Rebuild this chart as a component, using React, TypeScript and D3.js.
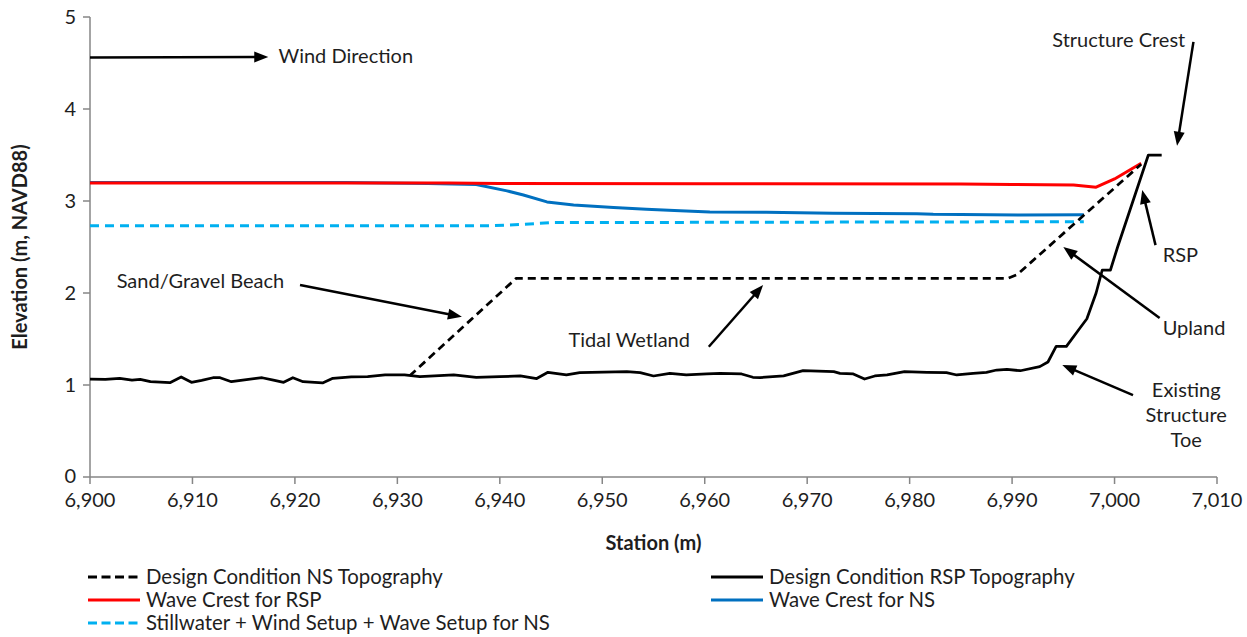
import React from "react";
import * as d3 from "d3";

// ---- data ----
const rspStation = [6900.0, 6901.5, 6902.9, 6904.1, 6904.9, 6905.9, 6907.8, 6908.9, 6909.9, 6910.9, 6912.0, 6912.7, 6913.8, 6914.9, 6916.8, 6917.9, 6918.9, 6919.8, 6920.8, 6922.7, 6923.7, 6925.5, 6927.1, 6928.8, 6930.7, 6932.2, 6935.5, 6937.7, 6940.0, 6942.0, 6943.6, 6944.7, 6946.5, 6947.8, 6952.4, 6953.7, 6955.0, 6956.6, 6958.2, 6960.2, 6961.5, 6963.6, 6964.7, 6965.4, 6967.7, 6969.6, 6972.6, 6973.2, 6974.5, 6975.6, 6976.6, 6977.8, 6979.5, 6981.7, 6983.6, 6984.6, 6986.2, 6987.5, 6988.5, 6989.5, 6990.8, 6992.7, 6993.5, 6994.3, 6995.3, 6996.5, 6997.3, 6998.2, 6998.8, 6999.6, 7000.3, 7003.3, 7004.6];
const rspElev = [1.065, 1.062, 1.073, 1.054, 1.062, 1.036, 1.025, 1.087, 1.029, 1.051, 1.079, 1.079, 1.036, 1.054, 1.079, 1.054, 1.029, 1.079, 1.036, 1.022, 1.073, 1.087, 1.09, 1.109, 1.109, 1.09, 1.109, 1.084, 1.09, 1.10, 1.07, 1.138, 1.109, 1.134, 1.145, 1.134, 1.098, 1.127, 1.109, 1.12, 1.127, 1.12, 1.084, 1.08, 1.10, 1.156, 1.145, 1.127, 1.12, 1.065, 1.098, 1.109, 1.145, 1.138, 1.134, 1.109, 1.127, 1.138, 1.163, 1.17, 1.155, 1.2, 1.25, 1.42, 1.42, 1.6, 1.72, 2.0, 2.25, 2.25, 2.5, 3.5, 3.5];

const nsStation = [6931.2, 6941.6, 6989.6, 6990.5, 7002.6];
const nsElev = [1.10, 2.16, 2.16, 2.2, 3.40];

const redStation = [6900, 6935, 6940, 6960, 6985, 6990, 6996, 6998.2, 7000, 7002.6];
const redElev = [3.195, 3.195, 3.19, 3.188, 3.186, 3.18, 3.175, 3.15, 3.24, 3.41];

const blueStation = [6900, 6925, 6933, 6937.7, 6940.7, 6942.3, 6944.6, 6947.2, 6951.1, 6954.3, 6957.6, 6960.5, 6966, 6972.5, 6980.7, 6982.3, 6990.8, 6997];
const blueElev = [3.2, 3.2, 3.19, 3.18, 3.11, 3.065, 2.99, 2.957, 2.93, 2.91, 2.895, 2.88, 2.877, 2.866, 2.862, 2.855, 2.848, 2.85];

const cyanStation = [6900, 6939, 6942, 6945.2, 6960, 6997];
const cyanElev = [2.73, 2.73, 2.745, 2.765, 2.768, 2.775];

const xTicks = [6900, 6910, 6920, 6930, 6940, 6950, 6960, 6970, 6980, 6990, 7000, 7010];
const yTicks = [0, 1, 2, 3, 4, 5];

const legendLabels = [
  "Design Condition NS Topography",
  "Design Condition RSP Topography",
  "Wave Crest for RSP",
  "Wave Crest for NS",
  "Stillwater + Wind Setup + Wave Setup for NS",
];

// annotation texts & arrows in data coordinates
const annotations = [
  { text: ["Wind Direction"], tx: 6918.4, ty: 4.576, anchor: "start", from: [6900, 4.56], to: [6917.4, 4.565] },
  { text: ["Structure Crest"], tx: 7006.9, ty: 4.75, anchor: "end", from: [7007.7, 4.73], to: [7006.1, 3.6] },
  { text: ["Sand/Gravel Beach"], tx: 6902.6, ty: 2.13, anchor: "start", from: [6920.5, 2.087], to: [6936.3, 1.742] },
  { text: ["Tidal Wetland"], tx: 6946.7, ty: 1.489, anchor: "start", from: [6960.4, 1.416], to: [6965.7, 2.087] },
  { text: ["RSP"], tx: 7004.7, ty: 2.413, anchor: "start", from: [7004.0, 2.52], to: [7002.7, 3.12] },
  { text: ["Upland"], tx: 7004.7, ty: 1.62, anchor: "start", from: [7004.4, 1.728], to: [6995.0, 2.5] },
  { text: ["Existing", "Structure", "Toe"], tx: 7007.0, ty: 0.946, anchor: "middle", from: [7001.8, 0.891], to: [6994.9, 1.217] },
];

const FONT = "Lato, Carlito, Calibri, 'Open Sans', sans-serif";
const W = 1247;
const H = 637;

function Arrow({ x1, y1, x2, y2 }: { x1: number; y1: number; x2: number; y2: number }) {
  const dx = x2 - x1;
  const dy = y2 - y1;
  const len = Math.hypot(dx, dy);
  const ux = dx / len;
  const uy = dy / len;
  const hl = 14;
  const hw = 5.5;
  const bx = x2 - ux * hl;
  const by = y2 - uy * hl;
  const pts = [
    [x2, y2],
    [bx - uy * hw, by + ux * hw],
    [bx + uy * hw, by - ux * hw],
  ];
  return (
    <g>
      <line x1={x1} y1={y1} x2={bx + ux * 2} y2={by + uy * 2} stroke="#000" strokeWidth={2.5} />
      <polygon points={pts.map((p) => p.join(",")).join(" ")} fill="#000" />
    </g>
  );
}

export default function App() {
  const x = d3.scaleLinear().domain([6900, 7010]).range([90, 1217]);
  const y = d3.scaleLinear().domain([0, 5]).range([477, 17]);
  const line = d3
    .line<[number, number]>()
    .x((d) => x(d[0]))
    .y((d) => y(d[1]));
  const zip = (a: number[], b: number[]) => a.map((v, i) => [v, b[i]] as [number, number]);

  const series = [
    { st: cyanStation, el: cyanElev, color: "#00b0f0", w: 3, dash: "9,6" },
    { st: blueStation, el: blueElev, color: "#0070c0", w: 3, dash: undefined },
    { st: redStation, el: redElev, color: "#ff0000", w: 3, dash: undefined },
    { st: nsStation, el: nsElev, color: "#000", w: 2.75, dash: "8,5" },
    { st: rspStation, el: rspElev, color: "#000", w: 2.75, dash: undefined },
  ];

  const legend = [
    { label: legendLabels[0], color: "#000", dash: "9,4.5", col: 0, row: 0 },
    { label: legendLabels[1], color: "#000", dash: undefined, col: 1, row: 0 },
    { label: legendLabels[2], color: "#ff0000", dash: undefined, col: 0, row: 1 },
    { label: legendLabels[3], color: "#0070c0", dash: undefined, col: 1, row: 1 },
    { label: legendLabels[4], color: "#00b0f0", dash: "9,4.5", col: 0, row: 2 },
  ];
  const colX = [88, 711];
  const rowY = [577, 600, 623];

  const axisColor = "#868686";
  const textColor = "#1e1e1e";

  return (
    <div style={{ position: "absolute", left: 0, top: 0 }}>
      <svg width={W} height={H} style={{ display: "block", background: "#fff" }} fontFamily={FONT}>
        {/* axes */}
        <line x1={x(6900)} x2={x(6900)} y1={y(0)} y2={y(5)} stroke={axisColor} strokeWidth={1.5} />
        <line x1={x(6900)} x2={x(7010)} y1={y(0)} y2={y(0)} stroke={axisColor} strokeWidth={1.5} />
        {yTicks.map((t) => (
          <g key={"yt" + t}>
            <line x1={x(6900) - 7} x2={x(6900)} y1={y(t)} y2={y(t)} stroke={axisColor} strokeWidth={1.5} />
            <text x={x(6900) - 14} y={y(t) - (t === 0 ? 1 : 0)} dy="0.35em" textAnchor="end" fontSize={20} fill={textColor}>
              {t}
            </text>
          </g>
        ))}
        {xTicks.map((t) => (
          <g key={"xt" + t}>
            <line x1={x(t)} x2={x(t)} y1={y(0)} y2={y(0) + 7} stroke={axisColor} strokeWidth={1.5} />
            <text x={x(t)} y={y(0) + 23} dy="0.35em" textAnchor="middle" fontSize={20} fill={textColor}>
              {d3.format(",")(t)}
            </text>
          </g>
        ))}
        <text
          transform={`translate(20,${(y(0) + y(5)) / 2}) rotate(-90)`}
          textAnchor="middle"
          dy="0.35em"
          fontSize={20}
          fontWeight="bold"
          fill={textColor}
        >
          Elevation (m, NAVD88)
        </text>
        <text x={(x(6900) + x(7010)) / 2} y={543} dy="0.35em" textAnchor="middle" fontSize={20} fontWeight="bold" fill={textColor}>
          Station (m)
        </text>

        {/* series */}
        {series.map((s, i) => (
          <path
            key={"s" + i}
            d={line(zip(s.st, s.el)) || ""}
            fill="none"
            stroke={s.color}
            strokeWidth={s.w}
            strokeDasharray={s.dash}
            strokeLinejoin="round"
          />
        ))}

        {/* annotations */}
        {annotations.map((a, i) => (
          <g key={"a" + i}>
            <Arrow x1={x(a.from[0])} y1={y(a.from[1])} x2={x(a.to[0])} y2={y(a.to[1])} />
            {a.text.map((t, j) => (
              <text
                key={j}
                x={x(a.tx)}
                y={y(a.ty) + j * 25}
                dy="0.35em"
                textAnchor={a.anchor as any}
                fontSize={20}
                fill={textColor}
              >
                {t}
              </text>
            ))}
          </g>
        ))}

        {/* legend */}
        {legend.map((l, i) => (
          <g key={"l" + i}>
            <line
              x1={colX[l.col]}
              x2={colX[l.col] + 52}
              y1={rowY[l.row]}
              y2={rowY[l.row]}
              stroke={l.color}
              strokeWidth={3}
              strokeDasharray={l.dash}
            />
            <text x={colX[l.col] + 58} y={rowY[l.row]} dy="0.35em" fontSize={20.4} fill={textColor}>
              {l.label}
            </text>
          </g>
        ))}
      </svg>
    </div>
  );
}
